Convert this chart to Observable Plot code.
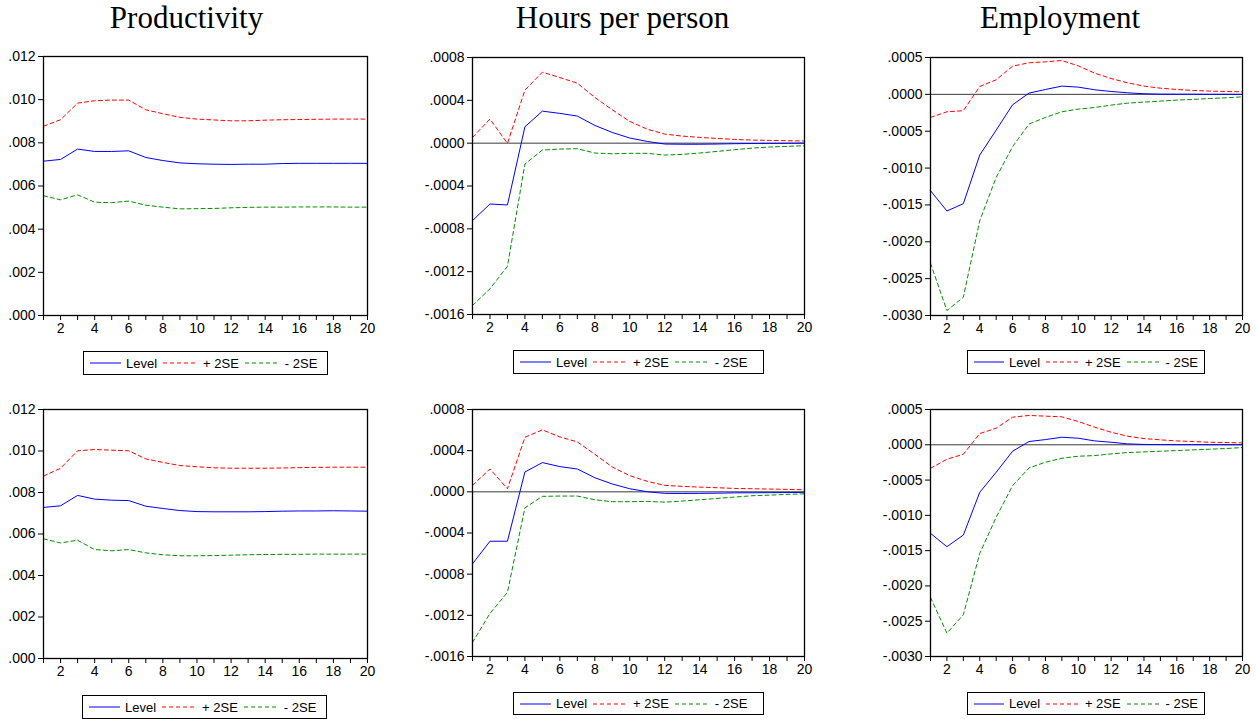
<!DOCTYPE html>
<html><head><meta charset="utf-8">
<script src="https://cdn.jsdelivr.net/npm/d3@7"></script>
<script src="https://cdn.jsdelivr.net/npm/@observablehq/plot@0.6"></script>
<style>
body{margin:0;background:#fff;}
#root{position:relative;width:1256px;height:719px;overflow:hidden;background:#fff;}
.title{position:absolute;top:2px;font-family:"Liberation Serif","Times New Roman",serif;font-size:31px;line-height:31px;white-space:nowrap;transform:translateX(-50%);color:#000;}
.panel{position:absolute;}
.legend{position:absolute;border:1px solid #000;box-sizing:border-box;display:flex;align-items:center;padding-left:6px;font-family:"Liberation Sans",Arial,sans-serif;font-size:13px;color:#000;background:#fff;white-space:nowrap;}
.legend svg{display:block;margin-right:5px;}
.legend span{margin-right:6px;}
</style></head>
<body><div id="root"></div>
<script>
const periods = [1,2,3,4,5,6,7,8,9,10,11,12,13,14,15,16,17,18,19,20];
const titles = ["Productivity","Hours per person","Employment"];
const seriesNames = ["Level","+ 2SE","- 2SE"];
const seriesColors = ["#0000ff","#ff0000","#009000"];

const prodTicks = [0,0.002,0.004,0.006,0.008,0.010,0.012];
const hoursTicks = [-0.0016,-0.0012,-0.0008,-0.0004,0,0.0004,0.0008];
const empTicks = [-0.0030,-0.0025,-0.0020,-0.0015,-0.0010,-0.0005,0,0.0005];

// top row
const prodLevel1 = [0.00715,0.00723,0.00771,0.00760,0.00760,0.00763,0.00732,0.00718,0.00707,0.00703,0.00701,0.00700,0.00701,0.00701,0.00704,0.00705,0.00705,0.00705,0.00705,0.00705];
const prodUpper1 = [0.00877,0.00907,0.00984,0.00995,0.00998,0.00998,0.00953,0.00935,0.00918,0.00910,0.00906,0.00902,0.00902,0.00905,0.00907,0.00908,0.00909,0.00910,0.00910,0.00910];
const prodLower1 = [0.00555,0.00536,0.00559,0.00525,0.00523,0.00530,0.00511,0.00502,0.00494,0.00495,0.00496,0.00499,0.00501,0.00502,0.00502,0.00503,0.00503,0.00503,0.00502,0.00502];

const hoursLevel1 = [-0.000723,-0.000568,-0.000577,0.000153,0.000299,0.000278,0.000253,0.000166,0.000100,0.000048,0.000016,-0.000008,-0.000010,-0.000010,-0.000008,-0.000005,-0.000003,-0.000002,-0.000001,0.000000];
const hoursUpper1 = [0.000054,0.000225,-0.000002,0.000495,0.000663,0.000613,0.000560,0.000427,0.000312,0.000203,0.000131,0.000085,0.000066,0.000054,0.000044,0.000035,0.000029,0.000026,0.000023,0.000020];
const hoursLower1 = [-0.001516,-0.001360,-0.001150,-0.000195,-0.000064,-0.000055,-0.000052,-0.000092,-0.000099,-0.000095,-0.000095,-0.000111,-0.000105,-0.000092,-0.000077,-0.000061,-0.000046,-0.000036,-0.000030,-0.000024];

const empLevel1 = [-0.001307,-0.001582,-0.001483,-0.000823,-0.000485,-0.000141,0.000017,0.000066,0.000112,0.000098,0.000062,0.000039,0.000021,0.000008,0.000003,0.000002,0.000002,0.000001,0.000001,0.000000];
const empUpper1 = [-0.000313,-0.000236,-0.000222,0.000107,0.000197,0.000383,0.000428,0.000441,0.000459,0.000387,0.000288,0.000215,0.000157,0.000112,0.000084,0.000066,0.000053,0.000044,0.000039,0.000035];
const empLower1 = [-0.002291,-0.002933,-0.002752,-0.001713,-0.001126,-0.000710,-0.000403,-0.000313,-0.000236,-0.000200,-0.000178,-0.000146,-0.000119,-0.000105,-0.000092,-0.000078,-0.000069,-0.000056,-0.000047,-0.000033];

// bottom row
const prodLevel2 = [0.00728,0.00736,0.00786,0.00768,0.00763,0.00761,0.00734,0.00723,0.00713,0.00708,0.00707,0.00707,0.00707,0.00708,0.00710,0.00711,0.00711,0.00712,0.00711,0.00710];
const prodUpper2 = [0.00879,0.00917,0.01001,0.01007,0.01004,0.01001,0.00962,0.00945,0.00930,0.00924,0.00919,0.00917,0.00917,0.00917,0.00918,0.00920,0.00921,0.00922,0.00922,0.00922];
const prodLower2 = [0.00577,0.00557,0.00570,0.00525,0.00519,0.00525,0.00509,0.00500,0.00495,0.00495,0.00496,0.00498,0.00500,0.00501,0.00502,0.00502,0.00503,0.00503,0.00503,0.00503];

const hoursLevel2 = [-0.000700,-0.000480,-0.000480,0.000193,0.000284,0.000245,0.000222,0.000137,0.000076,0.000030,0.000001,-0.000015,-0.000016,-0.000015,-0.000013,-0.000010,-0.000009,-0.000008,-0.000007,-0.000005];
const hoursUpper2 = [0.000063,0.000222,0.000030,0.000530,0.000602,0.000534,0.000485,0.000365,0.000241,0.000157,0.000102,0.000063,0.000053,0.000046,0.000040,0.000033,0.000030,0.000027,0.000024,0.000020];
const hoursLower2 = [-0.001464,-0.001181,-0.000977,-0.000155,-0.000044,-0.000041,-0.000041,-0.000077,-0.000096,-0.000096,-0.000093,-0.000100,-0.000090,-0.000077,-0.000064,-0.000051,-0.000038,-0.000032,-0.000025,-0.000019];

const empLevel2 = [-0.001255,-0.001444,-0.001279,-0.000673,-0.000389,-0.000091,0.000046,0.000074,0.000107,0.000093,0.000055,0.000036,0.000013,0.000005,0.000003,0.000002,0.000002,0.000001,0.000001,0.000001];
const empUpper2 = [-0.000333,-0.000205,-0.000134,0.000159,0.000235,0.000391,0.000416,0.000406,0.000396,0.000330,0.000249,0.000178,0.000122,0.000088,0.000070,0.000055,0.000046,0.000036,0.000032,0.000027];
const empLower2 = [-0.002163,-0.002669,-0.002409,-0.001539,-0.001028,-0.000579,-0.000328,-0.000247,-0.000191,-0.000162,-0.000153,-0.000129,-0.000110,-0.000101,-0.000091,-0.000082,-0.000072,-0.000063,-0.000053,-0.000039];

const root = document.getElementById("root");

function fmt(digits){
  const f = d3.format("." + digits + "f");
  return d => f(d).replace(/\u2212/g, "-").replace(/^(-?)0\./, "$1.");
}

const panels = [
  {left:0, top:40, w:380, h:300, ml:43, mr:13, mt:16, mb:25, ticks:prodTicks, dom:[0,0.012], f:fmt(3), zero:false, s:[prodLevel1,prodUpper1,prodLower1], leg:{x:83,y:351,w:245,h:24}},
  {left:420, top:40, w:400, h:300, ml:52, mr:16, mt:17, mb:26, ticks:hoursTicks, dom:[-0.0016,0.0008], f:fmt(4), zero:true, s:[hoursLevel1,hoursUpper1,hoursLower1], leg:{x:513,y:350,w:251,h:24}},
  {left:860, top:40, w:396, h:300, ml:70, mr:14, mt:17, mb:25, ticks:empTicks, dom:[-0.0030,0.0005], f:fmt(4), zero:true, s:[empLevel1,empUpper1,empLower1], leg:{x:967,y:350,w:238,h:24}},
  {left:0, top:390, w:380, h:300, ml:43, mr:13, mt:19, mb:32, ticks:prodTicks, dom:[0,0.012], f:fmt(3), zero:false, s:[prodLevel2,prodUpper2,prodLower2], leg:{x:82,y:695,w:245,h:24}},
  {left:420, top:390, w:400, h:300, ml:52, mr:16, mt:19, mb:34, ticks:hoursTicks, dom:[-0.0016,0.0008], f:fmt(4), zero:true, s:[hoursLevel2,hoursUpper2,hoursLower2], leg:{x:513,y:692,w:251,h:23}},
  {left:860, top:390, w:396, h:300, ml:70, mr:14, mt:19, mb:34, ticks:empTicks, dom:[-0.0030,0.0005], f:fmt(4), zero:true, s:[empLevel2,empUpper2,empLower2], leg:{x:967,y:692,w:238,h:23}}
];

const titleX = [186.5, 622.5, 1060];
titles.forEach((t,i) => {
  const d = document.createElement("div");
  d.className = "title";
  d.style.left = titleX[i] + "px";
  d.textContent = t;
  root.appendChild(d);
});

panels.forEach(p => {
  const marks = [];
  if (p.zero) marks.push(Plot.ruleY([0], {stroke:"#3a3a3a", strokeWidth:1}));
  [1,2,0].forEach(k => {
    const data = periods.map((t,i) => ({t, v: p.s[k][i]}));
    marks.push(Plot.line(data, {x:"t", y:"v", stroke: seriesColors[k], strokeWidth: 1,
      strokeDasharray: k === 0 ? null : "4,3"}));
  });
  marks.push(Plot.frame({stroke:"#000", strokeWidth:1.3}));
  marks.push(Plot.axisX({ticks: periods, tickFormat: d => d % 2 === 0 ? String(d) : "", tickSize:5, tickPadding:3, label:null}));
  marks.push(Plot.axisY({ticks: p.ticks, tickFormat: p.f, tickSize:5, tickPadding:3, label:null}));
  const svg = Plot.plot({
    width: p.w, height: p.h,
    marginLeft: p.ml, marginRight: p.mr, marginTop: p.mt, marginBottom: p.mb,
    x: {domain:[1,20], label:null},
    y: {domain:p.dom, label:null},
    style: {fontFamily:'"Liberation Sans", Arial, sans-serif', fontSize:"14px", color:"#000", background:"transparent", overflow:"visible"},
    marks
  });
  const wrap = document.createElement("div");
  wrap.className = "panel";
  wrap.style.left = p.left + "px";
  wrap.style.top = p.top + "px";
  wrap.appendChild(svg);
  root.appendChild(wrap);

  const lg = document.createElement("div");
  lg.className = "legend";
  lg.style.left = p.leg.x + "px";
  lg.style.top = p.leg.y + "px";
  lg.style.width = p.leg.w + "px";
  lg.style.height = p.leg.h + "px";
  seriesNames.forEach((n,k) => {
    const sw = k === 0 ? 31 : 35;
    const s = d3.create("svg").attr("width", sw).attr("height", 8);
    s.append("line").attr("x1",0).attr("x2",sw).attr("y1",4).attr("y2",4)
      .attr("stroke", seriesColors[k]).attr("stroke-width",1)
      .attr("stroke-dasharray", k === 0 ? null : "4,3");
    lg.appendChild(s.node());
    const sp = document.createElement("span");
    sp.textContent = n;
    lg.appendChild(sp);
  });
  root.appendChild(lg);
});
</script>
</body></html>
